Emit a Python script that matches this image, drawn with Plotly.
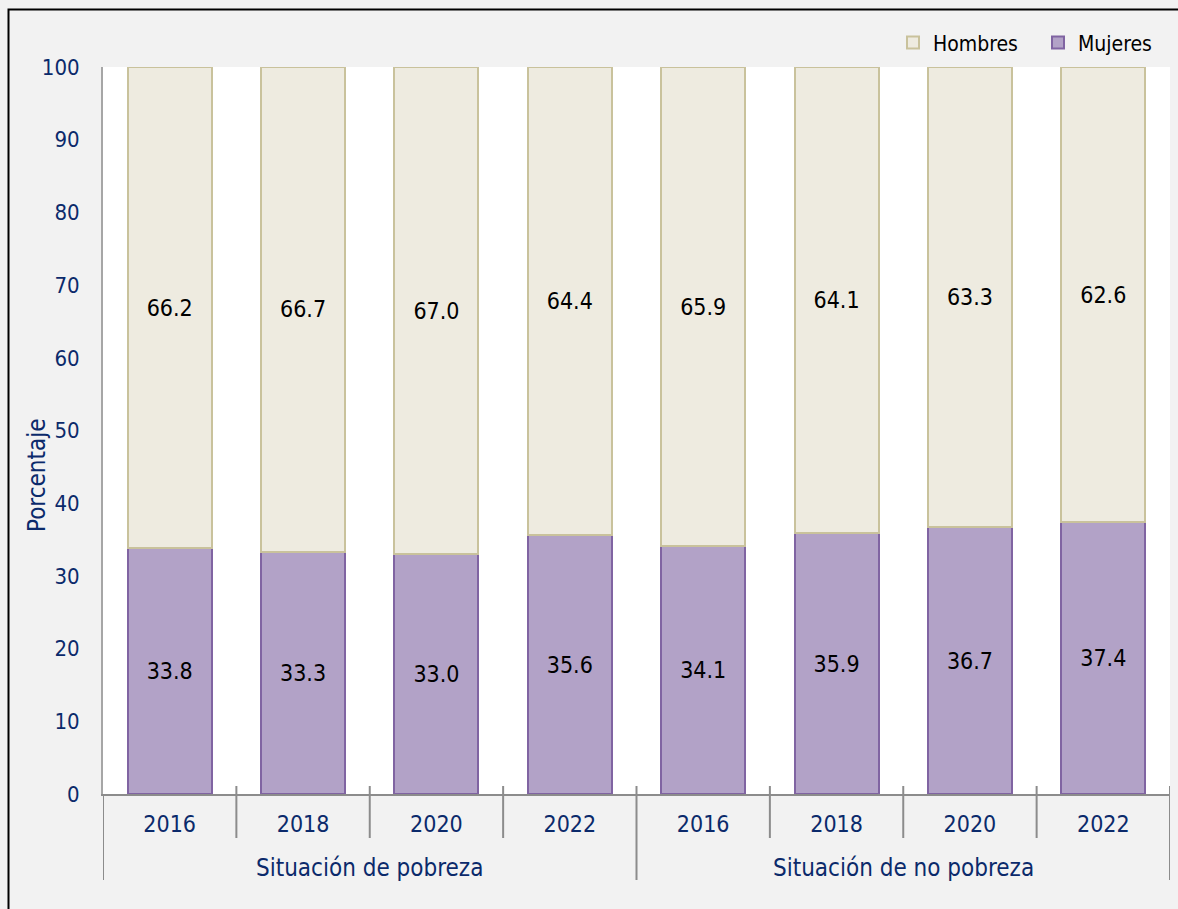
import plotly.graph_objects as go

group_names = ["Situación de pobreza", "Situación de no pobreza"]
groups = ["Situación de pobreza"] * 4 + ["Situación de no pobreza"] * 4
years = ["2016", "2018", "2020", "2022", "2016", "2018", "2020", "2022"]
mujeres = [33.8, 33.3, 33.0, 35.6, 34.1, 35.9, 36.7, 37.4]
hombres = [66.2, 66.7, 67.0, 64.4, 65.9, 64.1, 63.3, 62.6]
y_title = "Porcentaje"

navy = "#0B2A6B"
gray = "#8C8C8C"
font_family = "Liberation Sans Narrow, DejaVu Sans Condensed"

xpos = list(range(len(years)))

fig = go.Figure()
fig.add_trace(go.Bar(
    name="Mujeres", x=xpos, y=mujeres, width=0.63,
    customdata=groups,
    marker=dict(color="#B2A2C7", line=dict(color="#8064A2", width=2)),
    text=[f"{v:.1f}" for v in mujeres], textposition="inside",
    insidetextanchor="middle", textangle=0,
    textfont=dict(color="black", size=23, family=font_family),
))
fig.add_trace(go.Bar(
    name="Hombres", x=xpos, y=hombres, width=0.63,
    customdata=groups,
    marker=dict(color="#EEEBE0", line=dict(color="#C9C29C", width=2)),
    text=[f"{v:.1f}" for v in hombres], textposition="inside",
    insidetextanchor="middle", textangle=0,
    textfont=dict(color="black", size=23, family=font_family),
))

W, H = 1178, 909
ml, mr, mt, mb = 103, 8, 67, 115
pw, ph = W - ml - mr, H - mt - mb

shapes = [dict(type="rect", xref="paper", yref="paper",
               x0=(8.5 - ml) / pw, x1=(W + 5 - ml) / pw,
               y0=-(H + 5 - mt - ph) / ph, y1=1 + (mt - 9.5) / ph,
               line=dict(color="black", width=2), layer="below")]

# category dividers
n = len(years)
for i in range(n + 1):
    b = i - 0.5
    is_group_edge = (i == 0 or i == n or groups[i] != groups[i - 1])
    y0 = 0 if i == 0 else 8 / ph
    y1 = -(86 / ph) if is_group_edge else -(44 / ph)
    shapes.append(dict(type="line", xref="x", yref="paper", x0=b, x1=b, y0=y0, y1=y1,
                       line=dict(color=gray, width=2)))

annotations = []
for g in group_names:
    idx = [i for i, gg in enumerate(groups) if gg == g]
    annotations.append(dict(x=sum(idx) / len(idx), xref="x", y=-(74 / ph), yref="paper",
                            text=g, showarrow=False, yanchor="middle", xanchor="center",
                            font=dict(color=navy, size=24, family=font_family)))
annotations.append(dict(x=(37 - ml) / pw, xref="paper", y=(794 - 475) / ph, yref="paper",
                        text=y_title, textangle=-90, showarrow=False,
                        xanchor="center", yanchor="middle",
                        font=dict(color=navy, size=24, family=font_family)))

fig.update_layout(
    width=W, height=H, barmode="stack",
    margin=dict(l=ml, r=mr, t=mt, b=mb, autoexpand=False),
    paper_bgcolor="#F2F2F2", plot_bgcolor="white",
    font=dict(family=font_family, size=23, color=navy),
    showlegend=True,
    legend=dict(orientation="h", x=(1183 - ml) / pw, xanchor="right", y=1.005, yanchor="bottom",
                traceorder="reversed", font=dict(color="black", size=21),
                entrywidth=100, bgcolor="rgba(0,0,0,0)"),
    yaxis=dict(range=[0, 100], dtick=10, showgrid=False, zeroline=False,
               showline=True, linecolor="#A6A6A6", linewidth=2,
               ticks="outside", ticklen=17, tickcolor="rgba(0,0,0,0)",
               tickfont=dict(color=navy, size=22)),
    xaxis=dict(range=[-0.5, n - 0.5], showline=True, linecolor=gray, linewidth=2,
               showgrid=False, zeroline=False,
               tickmode="array", tickvals=xpos, ticktext=years,
               ticks="outside", ticklen=8, tickcolor="rgba(0,0,0,0)",
               tickfont=dict(color=navy, size=23)),
    shapes=shapes,
    annotations=annotations,
)

fig.write_html("out.html", config={"displayModeBar": False},
               post_script="document.body.style.margin='0';")
